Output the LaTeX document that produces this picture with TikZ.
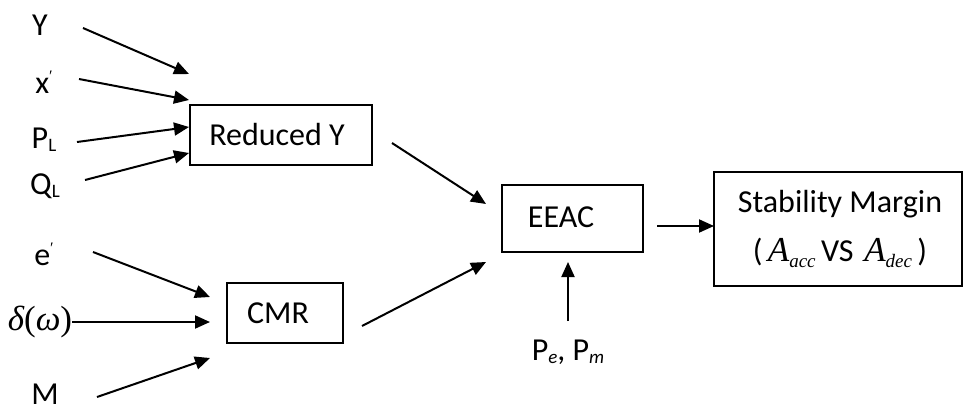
\documentclass[tikz,border=0pt]{standalone}
\usepackage{fontspec}
\setmainfont{Carlito}
\newfontfamily\tms{Liberation Serif}
\usetikzlibrary{arrows.meta}
\begin{document}
\begin{tikzpicture}[x=1pt,y=-1pt,
  arr/.style={line width=2pt,-{Triangle[length=15pt,width=13pt]}},
  box/.style={draw,line width=1.4pt,rectangle,inner sep=0pt},
  lbl/.style={inner sep=0pt,font=\fontsize{32}{38}\selectfont}]
\useasboundingbox (0,0) rectangle (965,412);
% boxes
\node[box,minimum width=182pt,minimum height=60pt] (red) at (281,135) {};
\node[lbl] (redt) at (277,135) {Reduced Y};
\node[box,minimum width=141pt,minimum height=67pt] (eeac) at (572.5,218.5) {};
\node[lbl] (eeact) at (561,217) {EEAC};
\node[box,minimum width=116pt,minimum height=60pt] (cmr) at (285,313) {};
\node[lbl] (cmrt) at (278,313) {CMR};
\node[box,minimum width=248pt,minimum height=114pt] (sm) at (838,229) {};
\node[lbl] (smt1) at (840,204) {Stability Margin};
\node[lbl] (smt2) at (840,253) {(\,{\tms\itshape\fontsize{35}{38}\selectfont A}{\tms\itshape\fontsize{19}{20}\selectfont\raisebox{-6pt}{acc}}\,VS\,\,{\tms\itshape\fontsize{35}{38}\selectfont A}{\tms\itshape\fontsize{19}{20}\selectfont\raisebox{-6pt}{dec}}\,)};
% input labels
\node[lbl] (Y) at (40,25) {Y};
\node[lbl] (xp) at (44,82) {x\raisebox{12pt}{\tms\fontsize{16}{16}\selectfont ′}};
\node[lbl] (PL) at (44,140) {P\raisebox{-3pt}{\fontsize{19}{19}\selectfont L}};
\node[lbl] (QL) at (45,186) {Q\raisebox{-3pt}{\fontsize{19}{19}\selectfont L}};
\node[lbl] (ep) at (44,254) {e\raisebox{12pt}{\tms\fontsize{16}{16}\selectfont ′}};
\node[lbl] (dw) at (40,322) {\tms\fontsize{35}{38}\selectfont\itshape δ\upshape(\itshape ω\upshape)};
\node[lbl] (M) at (45,394) {M};
\node[lbl] (pepm) at (568,352) {P\raisebox{-3pt}{\fontsize{19}{19}\selectfont\itshape e}, P\raisebox{-3pt}{\fontsize{19}{19}\selectfont\itshape m}};
% tail and tip coordinates
\coordinate (yA) at (83,28);  \coordinate (yB) at (189,74);
\coordinate (xA) at (79,79);  \coordinate (xB) at (189,100);
\coordinate (pA) at (77,142); \coordinate (pB) at (189,127);
\coordinate (qA) at (85,180); \coordinate (qB) at (189,153);
\coordinate (eA) at (93,252); \coordinate (eB) at (210,297);
\coordinate (dA) at (72,322); \coordinate (dB) at (210,322);
\coordinate (mA) at (97,397); \coordinate (mB) at (210,358);
\coordinate (rA) at (392,143); \coordinate (rB) at (486,204);
\coordinate (cA) at (362,326); \coordinate (cB) at (486,262);
\coordinate (pmA) at (568,321); \coordinate (pmB) at (568,262);
\coordinate (sA) at (657,226); \coordinate (sB) at (714,226);
% connectors
\draw[arr] (yA) -- (yB);
\draw[arr] (xA) -- (xB);
\draw[arr] (pA) -- (pB);
\draw[arr] (qA) -- (qB);
\draw[arr] (eA) -- (eB);
\draw[arr] (dA) -- (dB);
\draw[arr] (mA) -- (mB);
\draw[arr] (rA) -- (rB);
\draw[arr] (cA) -- (cB);
\draw[arr] (pmA) -- (pmB);
\draw[arr] (sA) -- (sB);
\end{tikzpicture}
\end{document}
